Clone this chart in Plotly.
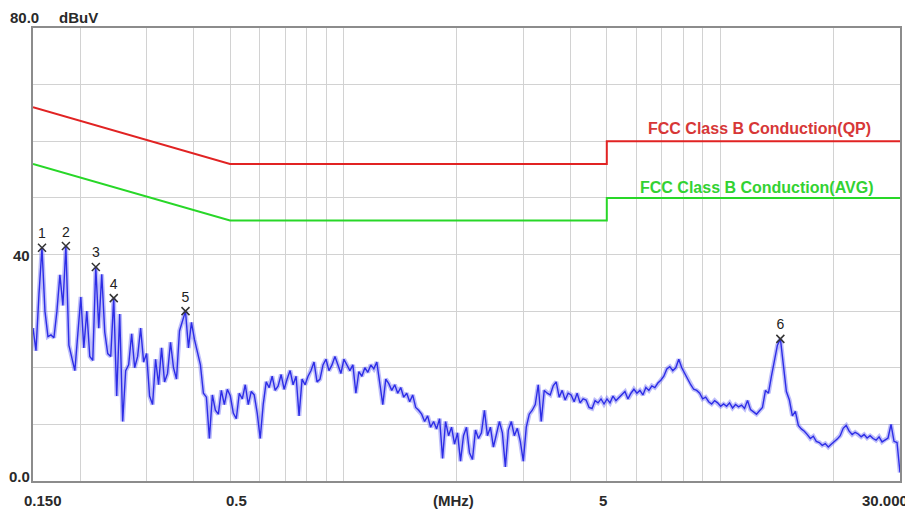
import math
import numpy as np
import plotly.graph_objects as go

# ---------------- data ----------------
FREQ_START = 0.15   # MHz
FREQ_STOP = 30.0    # MHz

levels = [
    27, 23, 33, 41.2, 30, 25.5, 25.8, 25.3, 30, 36.4,
    31, 41.5, 24, 22, 19.5, 26, 32.5, 23.5, 30, 22,
    21.3, 37.8, 27, 36.5, 26.3, 22.5, 22, 32.3, 15, 29.5,
    10.5, 19.5, 20.5, 26, 20, 22, 27, 21, 22.5, 15,
    13.5, 21.5, 17, 23.5, 17.5, 19, 24.5, 20, 18, 26.5,
    28.2, 30.0, 23.5, 28, 25, 23, 20.5, 15.5, 14.8, 7.5,
    15.2, 12.5, 11.8, 16, 13.5, 16.2, 15, 12, 11, 15.5,
    14.5, 17, 13.5, 15.8, 15.2, 12, 7.5, 13.5, 17.5, 16.5,
    18.5, 16, 16.8, 18.8, 16.2, 18, 19.5, 17, 18.5, 11.5,
    18, 17, 18.5, 19.5, 21, 17.5, 18, 20.5, 21.5, 19.5,
    20.5, 22, 20.3, 19, 21.5, 20.5, 19.5, 20.5, 15.5, 19.3,
    18.5, 20, 19.2, 20.5, 19.8, 21, 17.5, 13.5, 18, 17.2,
    16, 17, 15.5, 16.5, 14.8, 15.5, 14, 15.2, 13, 12.5,
    11.8, 10.5, 11.5, 9.5, 10.5, 9.2, 11, 4, 10.5, 8,
    9.5, 6.5, 8.5, 3.5, 8, 9.5, 5, 3.8, 9, 7.5,
    8.5, 12.5, 8, 9.5, 6, 8, 10.5, 8.5, 2.5, 9,
    10.5, 8, 9.3, 7, 3.5, 9.5, 11.8, 12.5, 13.5, 17,
    10.5, 16, 15.5, 15.2, 16.8, 17.5, 14.8, 16, 14.3, 15.5,
    15.2, 14, 15.5, 13.8, 14.5, 14.3, 13, 12.8, 14.2, 13.8,
    14.5, 13.6, 14.5, 13.8, 15, 14.2, 14.8, 15.2, 15.8, 14.5,
    15.5, 16.2, 15.5, 16, 15.2, 16.5, 16, 16.8, 16.5, 17.3,
    17.8, 18.5, 19.8, 20.2, 19.5, 20, 21.5, 20, 19, 17.8,
    17, 16.2, 16, 15.5, 14.5, 14.8, 14, 13.6, 14.2, 13.8,
    13.2, 13.6, 13.2, 13.8, 12.9, 13.5, 13.1, 13.4, 12.8, 14.2,
    12.6, 12.2, 11.8, 12.4, 13, 16, 15.5, 18.5, 21.5, 24,
    25.1, 20.5, 15.8, 14.3, 11.5, 12.3, 9.8, 9.2, 8.8, 8.2,
    7.5, 7.9, 7, 6.8, 6.3, 6.6, 6, 6.5, 6.9, 7.4,
    8, 9.3, 9.8, 8.8, 8.2, 8.6, 8.3, 7.8, 8.2, 7.6,
    8, 7.5, 7.2, 7.8, 6.9, 7.3, 7.6, 10, 7, 6.8,
    1.5,
]
# analyzer sweep points (log-spaced sweep between start and stop)
freq = np.geomspace(FREQ_START, FREQ_STOP, len(levels))

# FCC Class B conducted limits
qp_freq = [0.15, 0.5, 5, 5, 30]
qp_level = [66, 56, 56, 60, 60]
avg_freq = [0.15, 0.5, 5, 5, 30]
avg_level = [56, 46, 46, 50, 50]
qp_name = "FCC Class B Conduction(QP)"
avg_name = "FCC Class B Conduction(AVG)"

# peak markers
marker_freq = [0.1585, 0.1834, 0.2202, 0.2457, 0.3809, 14.44]
marker_level = [41.2, 41.5, 37.8, 32.3, 30.0, 25.1]
marker_label = ["1", "2", "3", "4", "5", "6"]

# axes
grid_freq = [0.2, 0.3, 0.4, 0.5, 0.6, 0.7, 0.8, 0.9, 1, 2, 3, 4, 5, 6, 7, 8, 9, 10, 20]
x_tick_freq = [0.15, 0.5, 2, 5, 30]
x_tick_text = ["0.150", "0.5", "(MHz)", "5", "30.000"]
y_tick_level = [0, 40, 80]
y_tick_text = ["0.0", "40", "80.0"]
y_unit = "dBuV"

# ---------------- figure ----------------
FONT = "Liberation Sans, Arial, sans-serif"
fig = go.Figure()

# soft halo under the trace (mimics the dense, noisy sweep band)
fig.add_trace(go.Scatter(x=freq, y=levels, mode="lines",
                         line=dict(color="rgba(110,110,245,0.45)", width=4.5),
                         hoverinfo="skip", showlegend=False))
fig.add_trace(go.Scatter(x=freq, y=levels, mode="lines",
                         line=dict(color="rgb(45,45,230)", width=1.4),
                         hoverinfo="skip", showlegend=False))
fig.add_trace(go.Scatter(x=qp_freq, y=qp_level, mode="lines",
                         line=dict(color="rgb(225,35,35)", width=2),
                         showlegend=False))
fig.add_trace(go.Scatter(x=avg_freq, y=avg_level, mode="lines",
                         line=dict(color="rgb(40,215,40)", width=2),
                         showlegend=False))
fig.add_trace(go.Scatter(x=marker_freq, y=marker_level, mode="markers+text",
                         marker=dict(symbol="x-thin", size=8,
                                     line=dict(width=1.5, color="#333")),
                         text=marker_label, textposition="top center",
                         textfont=dict(family=FONT, size=14, color="#222"),
                         showlegend=False))

annotations = []
# x tick labels
x_shift = [-11, 6, -3, -4, 10]
x_anchor = ["left", "center", "center", "center", "right"]
for f, t, s, a in zip(x_tick_freq, x_tick_text, x_shift, x_anchor):
    annotations.append(dict(x=math.log10(f), y=0, xref="x", yref="paper",
                            text="<b>" + t + "</b>", showarrow=False,
                            xanchor=a, yanchor="middle", xshift=s, yshift=-19,
                            font=dict(family=FONT, size=15, color="#2a2a2a")))
# y tick labels
y_shift = [5, -1, 11]
for v, t, s in zip(y_tick_level, y_tick_text, y_shift):
    annotations.append(dict(x=0, y=v, xref="paper", yref="y",
                            text="<b>" + t + "</b>", showarrow=False,
                            xanchor="right", yanchor="middle", xshift=-1 if v != 80 else 8,
                            yshift=s,
                            font=dict(family=FONT, size=15, color="#2a2a2a")))
annotations.append(dict(x=0, y=80, xref="paper", yref="y", text="<b>" + y_unit + "</b>",
                        showarrow=False, xanchor="left", yanchor="middle",
                        xshift=24, yshift=11,
                        font=dict(family=FONT, size=15, color="#2a2a2a")))
# limit names
annotations.append(dict(x=0.969, y=62.2, xref="paper", yref="y", text="<b>" + qp_name + "</b>",
                        showarrow=False, xanchor="right", yanchor="middle",
                        font=dict(family=FONT, size=16, color="rgb(215,55,55)")))
annotations.append(dict(x=0.971, y=51.9, xref="paper", yref="y", text="<b>" + avg_name + "</b>",
                        showarrow=False, xanchor="right", yanchor="middle",
                        font=dict(family=FONT, size=16, color="rgb(50,210,50)")))

# the page body adds an 8px offset, so the figure is 8px smaller than the window
fig.update_layout(
    width=905, height=503,
    margin=dict(l=25, r=11, t=20, b=30),
    paper_bgcolor="white", plot_bgcolor="white",
    annotations=annotations,
    xaxis=dict(type="log", range=[math.log10(FREQ_START), math.log10(FREQ_STOP)],
               tickvals=grid_freq, showticklabels=False, ticks="",
               showgrid=True, gridcolor="#d2d2d2", gridwidth=1,
               showline=True, linecolor="#8c8c8c", linewidth=1.5, mirror=True,
               zeroline=False),
    yaxis=dict(range=[0, 80], dtick=10, showticklabels=False, ticks="",
               showgrid=True, gridcolor="#d2d2d2", gridwidth=1,
               showline=True, linecolor="#8c8c8c", linewidth=1.5, mirror=True,
               zeroline=False),
)

fig.write_html("out.html")
